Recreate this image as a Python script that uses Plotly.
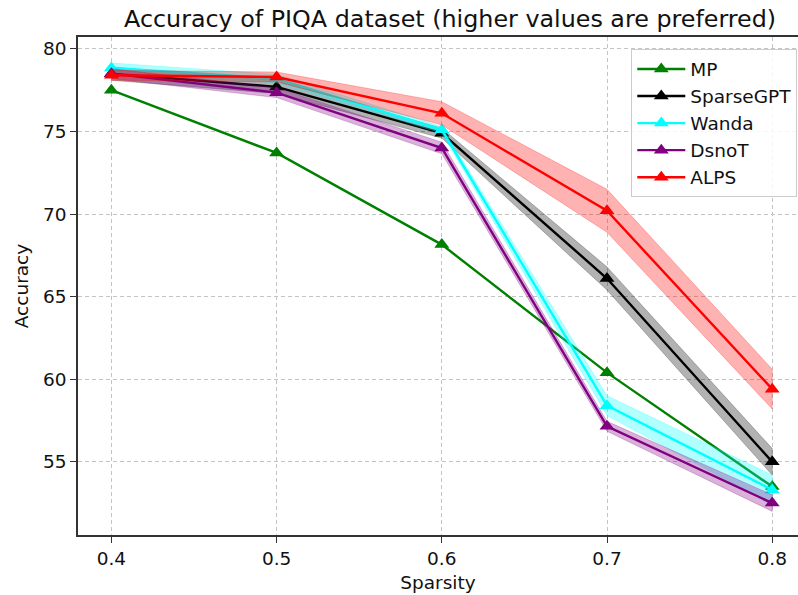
import plotly.graph_objects as go

sparsity = [0.4, 0.5, 0.6, 0.7, 0.8]
methods = ["MP", "SparseGPT", "Wanda", "DsnoT", "ALPS"]
colors = ["#008000", "#000000", "#00FFFF", "#800080", "#FF0000"]
band_colors = ["rgba(0,128,0,0.3)", "rgba(0,0,0,0.3)", "rgba(0,255,255,0.3)",
               "rgba(128,0,128,0.3)", "rgba(255,0,0,0.3)"]

mp_mean = [77.5, 73.7, 68.15, 60.4, 53.5]
mp_std = [0.0, 0.0, 0.0, 0.0, 0.0]
sparsegpt_mean = [78.5, 77.7, 74.9, 66.1, 55.0]
sparsegpt_std = [0.4, 0.4, 0.3, 0.7, 0.8]
wanda_mean = [78.85, 78.2, 75.1, 58.4, 53.3]
wanda_std = [0.3, 0.25, 0.2, 0.6, 0.9]
dsnot_mean = [78.5, 77.35, 74.0, 57.15, 52.5]
dsnot_std = [0.3, 0.3, 0.35, 0.3, 0.5]
alps_mean = [78.4, 78.3, 76.1, 70.2, 59.4]
alps_std = [0.3, 0.3, 0.7, 1.3, 1.2]

means = [mp_mean, sparsegpt_mean, wanda_mean, dsnot_mean, alps_mean]
stds = [mp_std, sparsegpt_std, wanda_std, dsnot_std, alps_std]

x_ticks = [0.4, 0.5, 0.6, 0.7, 0.8]
x_tick_labels = ["0.4", "0.5", "0.6", "0.7", "0.8"]
y_ticks = [55, 60, 65, 70, 75, 80]
y_tick_labels = ["55", "60", "65", "70", "75", "80"]

FONT = "DejaVu Sans"
TXT = "#111111"
fig = go.Figure()

for name, col, bcol, m, s in zip(methods, colors, band_colors, means, stds):
    fig.add_trace(go.Scatter(
        x=sparsity, y=m, mode="lines+markers", name=name,
        line=dict(color=col, width=2.4),
        marker=dict(symbol="triangle-up", size=13, color=col),
    ))
    if any(v > 0 for v in s):
        upper = [a + b for a, b in zip(m, s)]
        lower = [a - b for a, b in zip(m, s)]
        fig.add_trace(go.Scatter(
            x=sparsity + sparsity[::-1], y=upper + lower[::-1],
            fill="toself", fillcolor=bcol, mode="lines",
            line=dict(width=0.8, color=bcol),
            showlegend=False, hoverinfo="skip",
        ))

fig.update_layout(
    width=798, height=595,
    margin=dict(l=78, r=0, t=37, b=60, autoexpand=False),
    paper_bgcolor="white", plot_bgcolor="white",
    font=dict(family=FONT, size=18.5, color=TXT),
    title=dict(text="Accuracy of PIQA dataset (higher values are preferred)",
               x=0.564, xanchor="center", xref="container",
               y=1 - 19 / 595, yanchor="middle", yref="container",
               font=dict(family=FONT, size=23.8, color=TXT)),
    showlegend=True,
    legend=dict(x=0.999, xanchor="right", y=0.975, yanchor="top",
                bgcolor="rgba(255,255,255,0.85)", bordercolor="#cccccc",
                borderwidth=1, font=dict(family=FONT, size=18.5, color=TXT),
                tracegroupgap=0, itemwidth=48),
    xaxis=dict(range=[0.3798, 0.8156], tickvals=x_ticks, ticktext=x_tick_labels,
               showline=True, linecolor="#333333", linewidth=1.5, mirror=True,
               ticks="outside", ticklen=6, tickcolor="#333333",
               showgrid=True, gridcolor="#c4c4c4", griddash="4px,3px", gridwidth=1,
               zeroline=False,
               title=dict(text="Sparsity", standoff=8,
                          font=dict(family=FONT, size=18.5, color=TXT))),
    yaxis=dict(range=[50.57, 80.72], tickvals=y_ticks, ticktext=y_tick_labels,
               showline=True, linecolor="#333333", linewidth=1.5, mirror=False,
               ticks="outside", ticklen=6, tickcolor="#333333",
               showgrid=True, gridcolor="#c4c4c4", griddash="4px,3px", gridwidth=1,
               zeroline=False,
               title=dict(text="Accuracy", standoff=10,
                          font=dict(family=FONT, size=18.5, color=TXT))),
)

fig.write_html("out.html", config={"displayModeBar": False},
               post_script="document.body.style.margin='0';document.body.style.padding='0';")
